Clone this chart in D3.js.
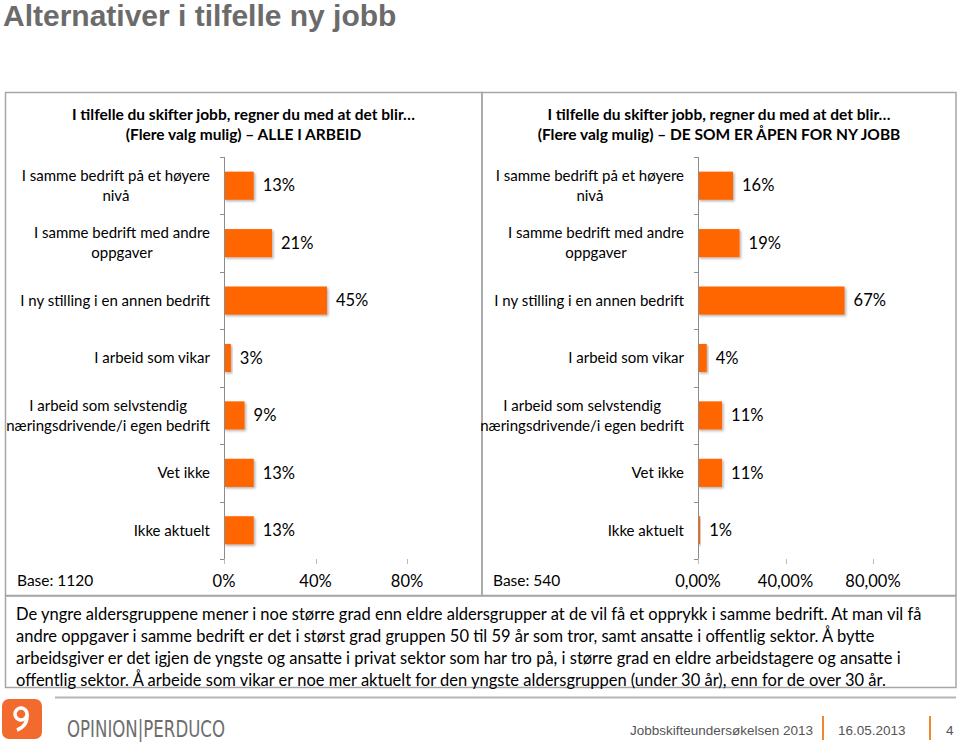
<!DOCTYPE html>
<html><head><meta charset="utf-8">
<script src="https://cdn.jsdelivr.net/npm/d3@7/dist/d3.min.js"></script>
<style>
body{margin:0;background:#fff;}
</style></head>
<body>
<svg id="c" width="960" height="745" style="font-family:Lato,'Open Sans',sans-serif"></svg>
<script>
const categories = [
  ["I samme bedrift på et høyere","nivå"],
  ["I samme bedrift med andre","oppgaver"],
  ["I ny stilling i en annen bedrift"],
  ["I arbeid som vikar"],
  ["I arbeid som selvstendig","næringsdrivende/i egen bedrift"],
  ["Vet ikke"],
  ["Ikke aktuelt"]
];
const valuesAll = [13,21,45,3,9,13,13];
const valuesOpen = [16,19,67,4,11,11,1];
const ticksAll = [0,40,80];
const tickLabelsAll = ["0%","40%","80%"];
const tickLabelsOpen = ["0,00%","40,00%","80,00%"];
const titleMain = "Alternativer i tilfelle ny jobb";
const panelTitles = [
  ["I tilfelle du skifter jobb, regner du med at det blir…","(Flere valg mulig) – ALLE I ARBEID"],
  ["I tilfelle du skifter jobb, regner du med at det blir…","(Flere valg mulig) – DE SOM ER ÅPEN FOR NY JOBB"]
];
const bases = ["Base: 1120","Base: 540"];
const paragraph = [
  "De yngre aldersgruppene mener i noe større grad enn eldre aldersgrupper at de vil få et opprykk i samme bedrift. At man vil få",
  "andre oppgaver i samme bedrift er det i størst grad gruppen 50 til 59 år som tror, samt ansatte i offentlig sektor. Å bytte",
  "arbeidsgiver er det igjen de yngste og ansatte i privat sektor som har tro på, i større grad en eldre arbeidstagere og ansatte i",
  "offentlig sektor. Å arbeide som vikar er noe mer aktuelt for den yngste aldersgruppen (under 30 år), enn for de over 30 år."
];

const svg = d3.select("#c");
const defs = svg.append("defs");
const f = defs.append("filter").attr("id","sh").attr("x","-10%").attr("y","-20%").attr("width","130%").attr("height","160%");
f.append("feDropShadow").attr("dx",1.5).attr("dy",1.5).attr("stdDeviation",1.2).attr("flood-color","#000").attr("flood-opacity",0.3);

const ARIAL = "'Liberation Sans',Arial,sans-serif";

// main title
svg.append("text").attr("x",3).attr("y",26).style("font-family",ARIAL)
  .attr("font-size",30).attr("font-weight","bold").attr("fill","#6b6b6b").text(titleMain);

// panel borders
const frame = svg.append("g").attr("fill","none").attr("stroke","#a6a6a6").attr("stroke-width",1.5);
frame.append("rect").attr("x",5.5).attr("y",92.5).attr("width",476.5).attr("height",503);
frame.append("rect").attr("x",482).attr("y",92.5).attr("width",474).attr("height",503);
frame.append("rect").attr("x",5.5).attr("y",596).attr("width",950.5).attr("height",91.5);

const panels = [
  {x0:5, x1:482, axisX:224, px80:407, values:valuesAll, tl:tickLabelsAll, title:panelTitles[0], base:bases[0], baseX:17},
  {x0:482, x1:956, axisX:698, px80:873, values:valuesOpen, tl:tickLabelsOpen, title:panelTitles[1], base:bases[1], baseX:493}
];

const y = d3.scaleBand().domain(d3.range(categories.length)).range([157,559]).paddingInner(0.51).paddingOuter(0.255);
const bandStep = y.step();

panels.forEach(p=>{
  const g = svg.append("g");
  const x = d3.scaleLinear().domain([0,80]).range([p.axisX,p.px80]);
  const cx = (p.x0+p.x1)/2;
  p.title.forEach((t,i)=>{
    g.append("text").attr("x",cx).attr("y",120+i*20).attr("text-anchor","middle")
      .attr("font-size",15.5).attr("font-weight","bold").attr("fill","#000").text(t);
  });
  // bars
  g.selectAll("rect.bar").data(p.values).join("rect").attr("class","bar")
    .attr("x",x(0)).attr("y",(d,i)=>y(i)).attr("width",d=>x(d)-x(0)).attr("height",y.bandwidth())
    .attr("fill","#ff6600").attr("filter","url(#sh)");
  // value labels
  g.selectAll("text.val").data(p.values).join("text").attr("class","val")
    .attr("x",d=>x(d)+9).attr("y",(d,i)=>y(i)+y.bandwidth()/2).attr("dy","0.35em")
    .attr("font-size",16.5).attr("fill","#000").text(d=>d+"%");
  // category axis
  const ax = g.append("g").attr("stroke","#8c8c8c").attr("stroke-width",1);
  ax.append("line").attr("x1",x(0)+0.5).attr("x2",x(0)+0.5).attr("y1",157).attr("y2",559);
  d3.range(categories.length+1).forEach(i=>{
    const yy = Math.round(157+i*bandStep)+0.5;
    ax.append("line").attr("x1",x(0)-4).attr("x2",x(0)+0.5).attr("y1",yy).attr("y2",yy);
  });
  // value axis ticks
  ticksAll.forEach((t,i)=>{
    ax.append("line").attr("x1",Math.round(x(t))+0.5).attr("x2",Math.round(x(t))+0.5).attr("y1",559).attr("y2",564).attr("stroke","#bbb");
    g.append("text").attr("x",x(t)).attr("y",581).attr("dy","0.35em").attr("text-anchor","middle")
      .attr("font-size",16.5).attr("fill","#000").text(p.tl[i]);
  });
  g.append("text").attr("x",p.baseX).attr("y",581).attr("dy","0.35em").attr("font-size",15.5).attr("fill","#000").text(p.base);
  // category labels
  categories.forEach((lines,i)=>{
    const cy = y(i)+y.bandwidth()/2;
    const grp = g.append("g");
    const ts = lines.map((l,j)=>grp.append("text").attr("font-size",15).attr("fill","#000")
      .attr("text-anchor","middle").attr("y",cy+(j-(lines.length-1)/2)*20).attr("dy","0.35em").text(l));
    const w = d3.max(ts,t=>t.node().getComputedTextLength());
    const right = x(0)-14;
    ts.forEach(t=>t.attr("x",right-w/2));
  });
});

// paragraph
paragraph.forEach((l,i)=>{
  svg.append("text").attr("x",16).attr("y",614+i*22).attr("dy","0.35em").attr("font-size",16.5).attr("fill","#000").text(l);
});

// footer
svg.append("line").attr("x1",55).attr("x2",956).attr("y1",697.5).attr("y2",697.5).attr("stroke","#b5b5b5").attr("stroke-width",2);
const logo = svg.append("g");
logo.append("rect").attr("x",2).attr("y",699).attr("width",40).attr("height",40).attr("rx",7).attr("fill","#f26a2e");
logo.append("circle").attr("cx",21).attr("cy",714).attr("r",6).attr("fill","none").attr("stroke","#fff").attr("stroke-width",3.5);
logo.append("path").attr("d","M27 714 Q28 726 17 730").attr("fill","none").attr("stroke","#fff").attr("stroke-width",3.5);
svg.append("text").attr("x",67).attr("y",737).attr("font-size",23).attr("fill","#6e6e6e")
  .style("font-family","'DejaVu Sans Condensed','Liberation Sans Narrow',sans-serif").attr("textLength",158).attr("lengthAdjust","spacingAndGlyphs")
  .text("OPINION|PERDUCO");
[["Jobbskifteundersøkelsen 2013",630],["16.05.2013",838],["4",946]].forEach(([t,xx])=>{
  svg.append("text").attr("x",xx).attr("y",735).style("font-family",ARIAL).attr("font-size",13.5).attr("fill","#555").text(t);
});
svg.append("line").attr("x1",823).attr("x2",823).attr("y1",716).attr("y2",740).attr("stroke","#f0862f").attr("stroke-width",2);
svg.append("line").attr("x1",930).attr("x2",930).attr("y1",716).attr("y2",740).attr("stroke","#f0862f").attr("stroke-width",2);
</script>
</body></html>
